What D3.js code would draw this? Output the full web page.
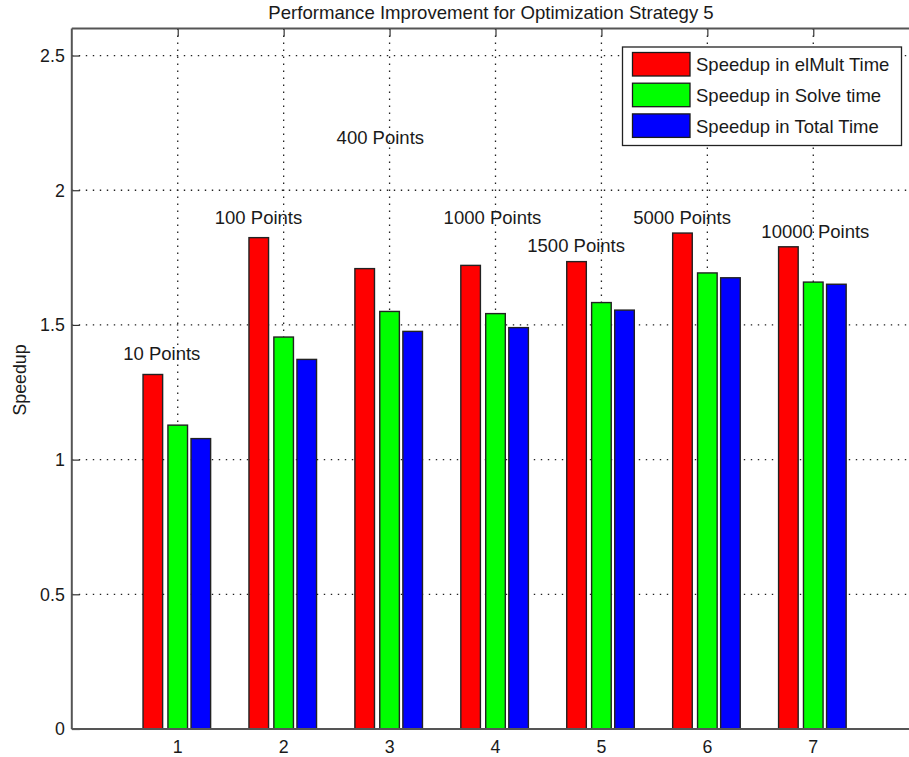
<!DOCTYPE html>
<html>
<head>
<meta charset="utf-8">
<script src="https://cdn.jsdelivr.net/npm/d3@7"></script>
<style>
  html, body { margin: 0; padding: 0; background: #fff; }
  svg { display: block; font-family: "Liberation Sans", Arial, sans-serif; }
</style>
</head>
<body>
<svg id="chart" width="909" height="757"></svg>
<script>
// Groups along the x axis (problem sizes 1..7)
const groups = [1, 2, 3, 4, 5, 6, 7];
const seriesNames = ["Speedup in elMult Time", "Speedup in Solve time", "Speedup in Total Time"];
const seriesColors = ["#ff0000", "#00ff00", "#0000ff"];
const elMultSpeedup = [1.316, 1.824, 1.709, 1.721, 1.735, 1.841, 1.790];
const solveSpeedup  = [1.128, 1.455, 1.550, 1.542, 1.583, 1.693, 1.659];
const totalSpeedup  = [1.078, 1.372, 1.476, 1.490, 1.555, 1.675, 1.651];

// Annotation text placed in data coordinates (left edge x, vertical middle y)
const noteTexts = ["10 Points", "100 Points", "400 Points", "1000 Points", "1500 Points", "5000 Points", "10000 Points"];
const noteX = [0.485, 1.35, 2.50, 3.51, 4.30, 5.30, 6.51];
const noteY = [1.395, 1.90, 2.197, 1.90, 1.796, 1.90, 1.848];

const xTicks = [1, 2, 3, 4, 5, 6, 7];
const yTicks = [0, 0.5, 1, 1.5, 2, 2.5];

const svg = d3.select("#chart");
const plotLeft = 71.8, plotRight = 919.2, plotTop = 28.6, plotBottom = 729;

const x = d3.scaleLinear().domain([0, 8]).range([plotLeft, plotRight]);
const y = d3.scaleLinear().domain([0, 2.6]).range([plotBottom, plotTop]);

const allSeries = [elMultSpeedup, solveSpeedup, totalSpeedup];
const offsets = [-0.235, 0, 0.218];
const barW = 0.185;

// Dotted grid
const gridG = svg.append("g");
gridG.selectAll("line.gy").data(yTicks.filter(v => v > 0)).join("line")
  .attr("x1", plotLeft).attr("x2", plotRight)
  .attr("y1", d => y(d)).attr("y2", d => y(d))
  .attr("stroke", "#222").attr("stroke-width", 1.3)
  .attr("stroke-dasharray", "1.4,5.6");
gridG.selectAll("line.gx").data(xTicks).join("line")
  .attr("y1", plotTop).attr("y2", plotBottom)
  .attr("x1", d => x(d)).attr("x2", d => x(d))
  .attr("stroke", "#222").attr("stroke-width", 1.3)
  .attr("stroke-dasharray", "1.4,5.6");

// Bars
allSeries.forEach((vals, si) => {
  svg.append("g").selectAll("rect").data(groups).join("rect")
    .attr("x", g => x(g + offsets[si] - barW / 2))
    .attr("width", x(barW) - x(0))
    .attr("y", (g, i) => y(vals[i]))
    .attr("height", (g, i) => y(0) - y(vals[i]))
    .attr("fill", seriesColors[si])
    .attr("stroke", "#222").attr("stroke-width", 1.4);
});

// Axes (box with inward ticks)
const axisColor = "#555";
const yAxis = d3.axisRight(y).tickValues(yTicks).tickSize(8).tickFormat("");
svg.append("g").attr("transform", `translate(${plotLeft},0)`).call(yAxis)
  .call(g => g.select(".domain").remove())
  .call(g => g.selectAll("line").attr("stroke", "#333").attr("stroke-width", 1.2));
const xTop = d3.axisBottom(x).tickValues(xTicks).tickSize(8).tickFormat("");
svg.append("g").attr("transform", `translate(0,${plotTop})`).call(xTop)
  .call(g => g.select(".domain").remove())
  .call(g => g.selectAll("line").attr("stroke", "#333").attr("stroke-width", 1.2));

[[plotLeft, plotTop, plotRight, plotTop], [plotLeft, plotBottom, plotRight, plotBottom],
 [plotLeft, plotTop, plotLeft, plotBottom], [plotRight, plotTop, plotRight, plotBottom]]
  .forEach(([x1, y1, x2, y2]) => {
    svg.append("line").attr("x1", x1).attr("y1", y1).attr("x2", x2).attr("y2", y2)
      .attr("stroke", axisColor).attr("stroke-width", 2);
  });

// Tick labels
const tickFont = 17.8;
const textFont = 18.5;
const textColor = "#1a1a1a";
svg.append("g").selectAll("text").data(yTicks).join("text")
  .attr("x", plotLeft - 7).attr("y", d => y(d)).attr("dy", "0.36em")
  .attr("text-anchor", "end").attr("font-size", tickFont).attr("fill", textColor)
  .text(d => d3.format("~g")(d));
svg.append("g").selectAll("text").data(xTicks).join("text")
  .attr("x", d => x(d)).attr("y", 752.5)
  .attr("text-anchor", "middle").attr("font-size", tickFont).attr("fill", textColor)
  .text(d => d);

// Title and axis label
svg.append("text").attr("x", 491).attr("y", 18.5).attr("text-anchor", "middle")
  .attr("font-size", 18.6).attr("fill", textColor)
  .text("Performance Improvement for Optimization Strategy 5");
svg.append("text").attr("transform", "translate(26,380) rotate(-90)")
  .attr("text-anchor", "middle").attr("font-size", tickFont).attr("fill", textColor)
  .text("Speedup");

// Annotations
svg.append("g").selectAll("text").data(noteTexts).join("text")
  .attr("x", (d, i) => x(noteX[i])).attr("y", (d, i) => y(noteY[i])).attr("dy", "0.36em")
  .attr("font-size", textFont).attr("fill", textColor)
  .text(d => d);

// Legend
const lg = svg.append("g");
lg.append("rect").attr("x", 622.5).attr("y", 47).attr("width", 279).attr("height", 98.5)
  .attr("fill", "#fff").attr("stroke", "#222").attr("stroke-width", 1.3);
seriesNames.forEach((name, i) => {
  const ry = 52.5 + i * 30.7;
  lg.append("rect").attr("x", 632.5).attr("y", ry).attr("width", 57.5).attr("height", 23.5)
    .attr("fill", seriesColors[i]).attr("stroke", "#1a1a1a").attr("stroke-width", 1.3);
  lg.append("text").attr("x", 696).attr("y", ry + 12).attr("dy", "0.36em")
    .attr("font-size", textFont).attr("fill", textColor).text(name);
});
</script>
</body>
</html>
